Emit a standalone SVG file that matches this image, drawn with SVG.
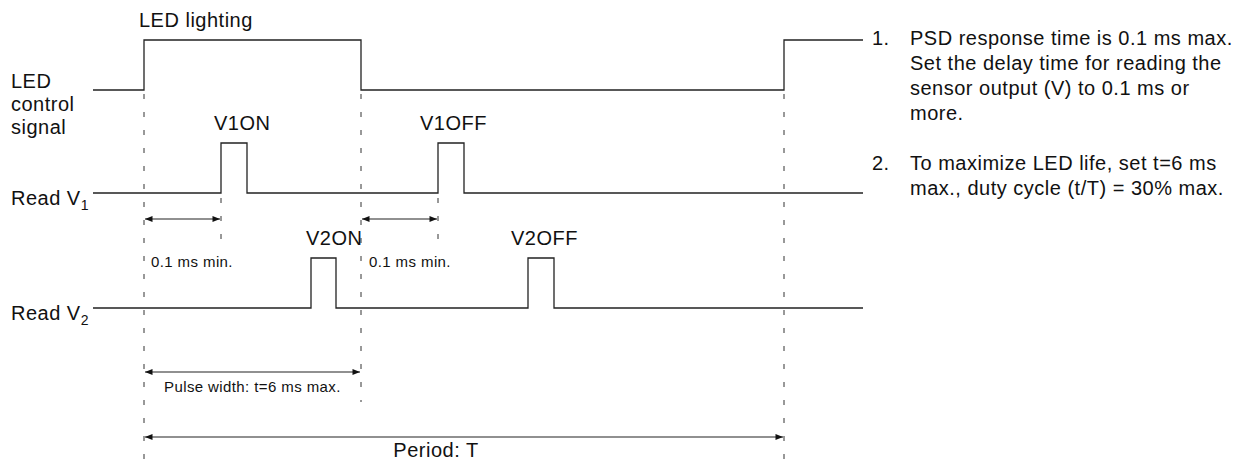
<svg xmlns="http://www.w3.org/2000/svg" width="1248" height="470" viewBox="0 0 1248 470">
<style>
text{font-family:"Liberation Sans",Arial,sans-serif;fill:#111;}
.t20{font-size:20px;letter-spacing:0.5px;}
.t15{font-size:15px;letter-spacing:0.4px;}
.sub{font-size:14px;}
.sig{fill:none;stroke:#222;stroke-width:1.3;}
.dash{fill:none;stroke:#333;stroke-width:1;stroke-dasharray:5 13;}
.dim{fill:none;stroke:#222;stroke-width:1.1;marker-start:url(#ah);marker-end:url(#ah);}
</style>
<defs>
<marker id="ah" viewBox="0 0 10 8" refX="10" refY="4" markerWidth="8" markerHeight="6" orient="auto-start-reverse" markerUnits="userSpaceOnUse">
<path d="M0,0 L10,4 L0,8 z" fill="#111"/>
</marker>
</defs>
<g id="led-signal">
<path class="sig" d="M93,90 H144 V40 H361 V90 H784 V40 H863"/>
<text class="t20" x="139" y="27">LED lighting</text>
<text class="t20" x="11" y="88">LED</text>
<text class="t20" x="11" y="111">control</text>
<text class="t20" x="11" y="134">signal</text>
</g>
<g id="read-v1">
<path class="sig" d="M93,193 H221 V143 H247 V193 H438 V143 H464 V193 H863"/>
<text class="t20" x="11" y="205">Read V<tspan class="sub" dy="5">1</tspan></text>
<text class="t20" x="214" y="130">V1ON</text>
<text class="t20" x="420" y="130">V1OFF</text>
</g>
<g id="read-v2">
<path class="sig" d="M93,308 H311 V258 H336 V308 H528 V258 H554 V308 H863"/>
<text class="t20" x="11" y="320">Read V<tspan class="sub" dy="5">2</tspan></text>
<text class="t20" x="306" y="245">V2ON</text>
<text class="t20" x="511" y="245">V2OFF</text>
</g>
<g id="connectors">
<line class="dash" x1="144" y1="94" x2="144" y2="466"/>
<line class="dash" x1="361" y1="94" x2="361" y2="402"/>
<line class="dash" x1="784" y1="94" x2="784" y2="466"/>
<line class="dash" x1="221" y1="198" x2="221" y2="246"/>
<line class="dash" x1="438" y1="198" x2="438" y2="246"/>
<line class="dim" x1="145" y1="219" x2="220" y2="219"/>
<line class="dim" x1="362" y1="219" x2="437" y2="219"/>
<line class="dim" x1="145" y1="372" x2="360" y2="372"/>
<line class="dim" x1="145" y1="437" x2="783" y2="437"/>
</g>
<g id="dim-labels">
<text class="t15" x="151" y="267">0.1 ms min.</text>
<text class="t15" x="369" y="267">0.1 ms min.</text>
<text class="t15" x="164" y="392">Pulse width: t=6 ms max.</text>
<text class="t20" x="436" y="457" text-anchor="middle">Period: T</text>
</g>
<g id="notes">
<text class="t20" x="872" y="45">1.</text>
<text class="t20" x="910" y="45">PSD response time is 0.1 ms max.</text>
<text class="t20" x="910" y="70">Set the delay time for reading the</text>
<text class="t20" x="910" y="95">sensor output (V) to 0.1 ms or</text>
<text class="t20" x="910" y="120">more.</text>
<text class="t20" x="872" y="170">2.</text>
<text class="t20" x="910" y="170">To maximize LED life, set t=6 ms</text>
<text class="t20" x="910" y="195">max., duty cycle (t/T) = 30% max.</text>
</g>
</svg>
